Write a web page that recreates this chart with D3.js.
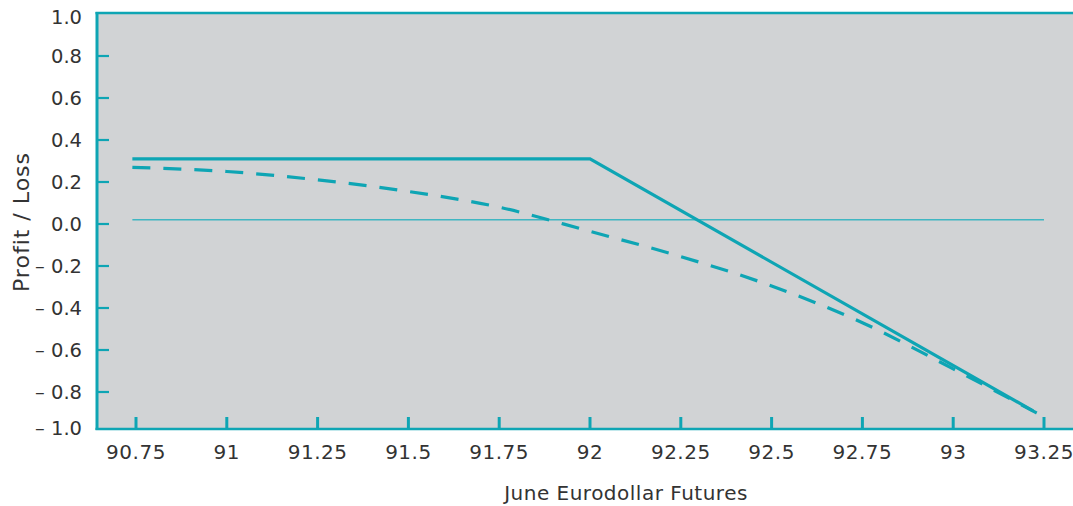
<!DOCTYPE html>
<meta charset="utf-8">
<style>
  body { margin: 0; background: #fff; }
  svg text { font-family: "DejaVu Sans", sans-serif; fill: #333; }
</style>
<svg width="1073" height="506"></svg>
<script src="https://d3js.org/d3.v7.min.js"></script>
<script>
  // values
  var xTicks = [90.75, 91, 91.25, 91.5, 91.75, 92, 92.25, 92.5, 92.75, 93, 93.25];
  var yTicks = [1.0, 0.8, 0.6, 0.4, 0.2, 0.0, -0.2, -0.4, -0.6, -0.8, -1.0];
  var solidX = [90.74, 92, 93.22];
  var solidY = [0.31, 0.31, -0.89];
  var dashX = [90.74, 91, 91.25, 91.5, 91.75, 92, 92.25, 92.5, 92.75, 93, 93.23];
  var dashY = [0.27, 0.25, 0.21, 0.155, 0.08, -0.035, -0.155, -0.295, -0.47, -0.69, -0.90];
  var refX = [90.74, 93.25];
  var refY = [0.02, 0.02];

  var teal = "#0ea5b4";
  var svg = d3.select("svg");
  var plotL = 97, plotT = 13, plotR = 1073, plotB = 429;

  var x = d3.scaleLinear().domain([90.75, 93.25]).range([136, 1044]);
  var y = d3.scaleLinear().domain([-1, 1]).range([434, 14]);

  var line = d3.line().x(d => x(d[0])).y(d => y(d[1]));

  svg.append("rect")
    .attr("x", plotL).attr("y", plotT)
    .attr("width", plotR - plotL).attr("height", plotB - plotT)
    .attr("fill", "#d1d3d5");

  // reference line near zero
  svg.append("path")
    .datum(d3.zip(refX, refY))
    .attr("d", line)
    .attr("fill", "none").attr("stroke", "#3fb6c2").attr("stroke-width", 1.5);

  // dashed curve
  svg.append("path")
    .datum(d3.zip(dashX, dashY))
    .attr("d", line.curve(d3.curveMonotoneX))
    .attr("fill", "none").attr("stroke", teal).attr("stroke-width", 3.2)
    .attr("stroke-dasharray", "18,13");

  // solid payoff
  svg.append("path")
    .datum(d3.zip(solidX, solidY))
    .attr("d", line.curve(d3.curveLinear))
    .attr("fill", "none").attr("stroke", teal).attr("stroke-width", 3.2);

  // x ticks
  svg.append("g").selectAll("line")
    .data(xTicks).enter().append("line")
    .attr("x1", d => x(d)).attr("x2", d => x(d))
    .attr("y1", plotB - 12).attr("y2", plotB)
    .attr("stroke", teal).attr("stroke-width", 3);

  svg.append("g").selectAll("text")
    .data(xTicks).enter().append("text")
    .attr("x", d => x(d)).attr("y", 459)
    .attr("text-anchor", "middle")
    .attr("font-size", 20)
    .attr("letter-spacing", 0.5)
    .text(d => d);

  // y ticks
  svg.append("g").selectAll("line")
    .data(yTicks.filter(d => d < 1 && d > -1)).enter().append("line")
    .attr("x1", plotL).attr("x2", plotL + 12)
    .attr("y1", d => y(d)).attr("y2", d => y(d))
    .attr("stroke", teal).attr("stroke-width", 2.2);

  svg.append("g").selectAll("text")
    .data(yTicks).enter().append("text")
    .attr("x", 82)
    .attr("y", d => Math.max(17, Math.min(428, y(d))))
    .attr("dy", "0.36em")
    .attr("text-anchor", "end")
    .attr("font-size", 19.5)
    .text(d => (d < 0 ? "\u2013 " : "") + d3.format(".1f")(Math.abs(d)));

  // axis frame
  svg.append("line")
    .attr("x1", plotL - 1.5).attr("x2", plotR).attr("y1", plotT).attr("y2", plotT)
    .attr("stroke", teal).attr("stroke-width", 2.5);
  svg.append("line")
    .attr("x1", plotL - 1.5).attr("x2", plotR).attr("y1", plotB).attr("y2", plotB)
    .attr("stroke", teal).attr("stroke-width", 2.5);
  svg.append("line")
    .attr("x1", plotL).attr("x2", plotL).attr("y1", plotT - 1).attr("y2", plotB + 1)
    .attr("stroke", teal).attr("stroke-width", 3);

  svg.append("text")
    .attr("x", 626).attr("y", 500)
    .attr("text-anchor", "middle")
    .attr("font-size", 20)
    .attr("letter-spacing", 0.5)
    .text("June Eurodollar Futures");

  svg.append("text")
    .attr("transform", "translate(29,222) rotate(-90)")
    .attr("text-anchor", "middle")
    .attr("font-size", 22)
    .attr("letter-spacing", 1)
    .text("Profit / Loss");
</script>
